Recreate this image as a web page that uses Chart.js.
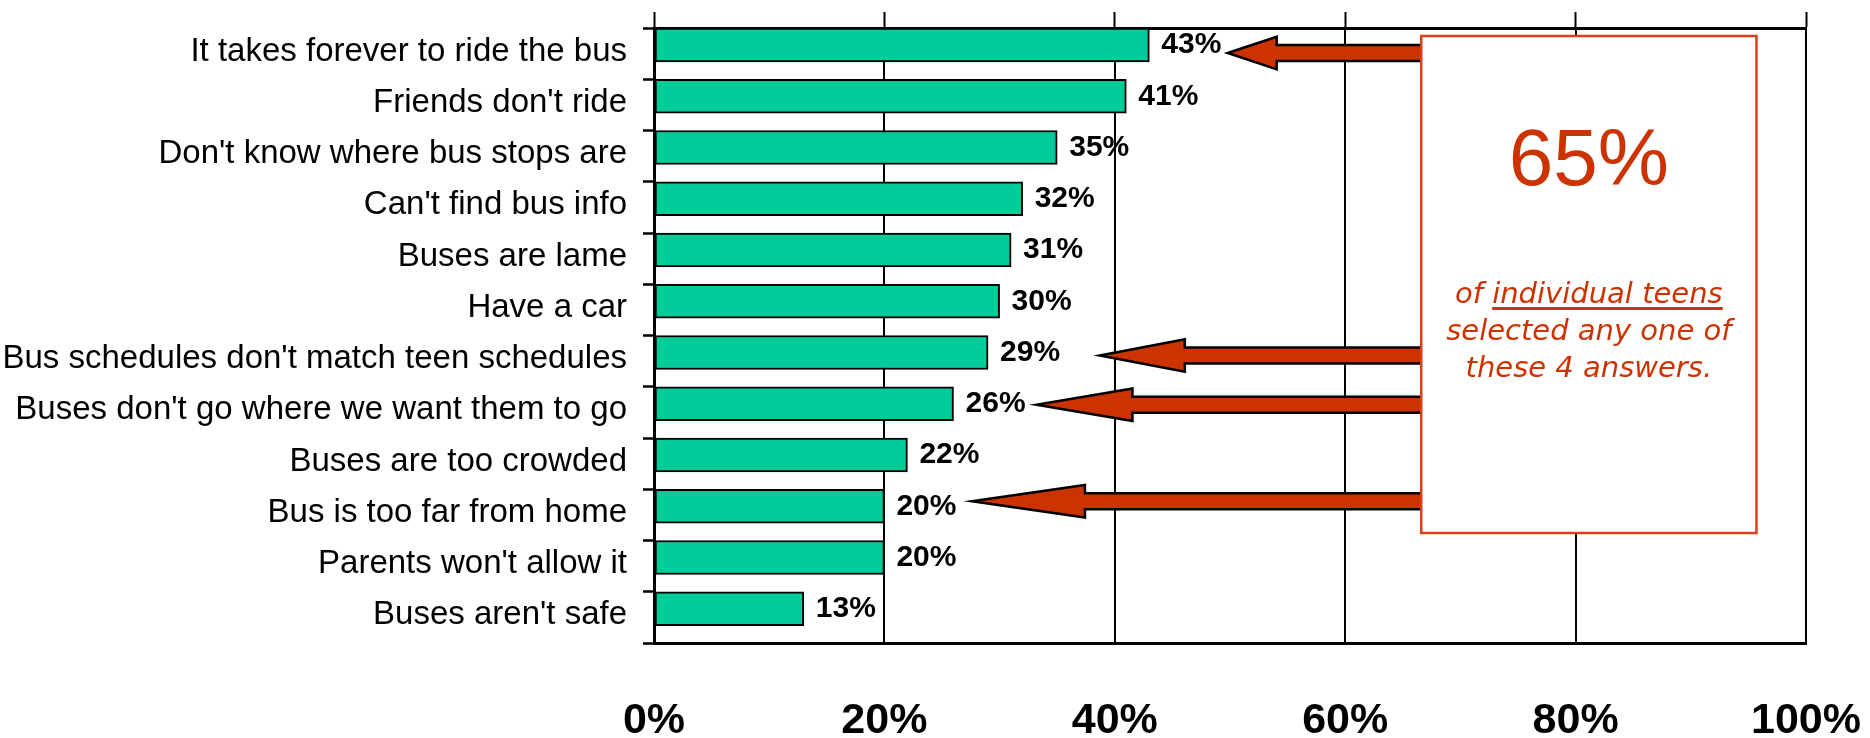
<!DOCTYPE html>
<html>
<head>
<meta charset="utf-8">
<script src="https://cdn.jsdelivr.net/npm/chart.js@4/dist/chart.umd.min.js"></script>
<style>
  body { margin: 0; background: #fff; }
  #wrap { width: 1870px; height: 738px; }
</style>
</head>
<body>
<div id="wrap"><canvas id="reasonsChart"></canvas></div>
<script>
// Why teens don't ride the bus (share of teens choosing each reason)
const reasons = [
  'It takes forever to ride the bus',
  "Friends don't ride",
  "Don't know where bus stops are",
  "Can't find bus info",
  'Buses are lame',
  'Have a car',
  "Bus schedules don't match teen schedules",
  "Buses don't go where we want them to go",
  'Buses are too crowded',
  'Bus is too far from home',
  "Parents won't allow it",
  "Buses aren't safe"
];
const percents = [43, 41, 35, 32, 31, 30, 29, 26, 22, 20, 20, 13];
const axisTicks = [0, 20, 40, 60, 80, 100];

// callout: rows the arrows point at, and the summary figure
const calloutRows = [0, 6, 7, 9];
const calloutFigure = '65%';
const calloutLines = ['of ', 'individual teens', 'selected any one of', 'these 4 answers.'];

// arrow shapes (hand drawn in the original, so each one differs a bit)
const arrowTips = [49.8, 38.7, 33.2, 27.6];   // tip, in axis percent
const arrowHeads = [49, 85, 96, 113];         // head length, px
const arrowDy = [8, 3, 1, -5];                // nudge from bar centre, px

const RED = '#cc3300';
const barShift = 0.168;   // bars sit at the top of each row, not centred

const annotations = {
  id: 'annotations',
  afterDatasetsDraw(chart) {
    const ctx = chart.ctx;
    const meta = chart.getDatasetMeta(0);
    const x = chart.scales.x;
    const area = chart.chartArea;

    // value labels
    ctx.save();
    ctx.font = 'bold 30px "Liberation Sans", Arial, sans-serif';
    ctx.fillStyle = '#000';
    ctx.textAlign = 'left';
    ctx.textBaseline = 'middle';
    meta.data.forEach((bar, i) => {
      ctx.fillText(percents[i] + '%', bar.x + 12, bar.y);
    });
    ctx.restore();

    const boxLeft = x.getPixelForValue(66.6);
    const boxRight = x.getPixelForValue(95.7);
    const boxTop = area.top + 8;
    const boxBottom = area.top + 505;

    // arrows
    ctx.save();
    ctx.fillStyle = RED;
    ctx.strokeStyle = '#000';
    ctx.lineWidth = 2.5;
    ctx.lineJoin = 'miter';
    calloutRows.forEach((row, k) => {
      const cy = meta.data[row].y + arrowDy[k];
      const tip = x.getPixelForValue(arrowTips[k]);
      const base = tip + arrowHeads[k];
      const tail = boxLeft + 2;
      const hh = 16.3, sh = 8;
      ctx.beginPath();
      ctx.moveTo(tip, cy);
      ctx.lineTo(base, cy - hh);
      ctx.lineTo(base, cy - sh);
      ctx.lineTo(tail, cy - sh);
      ctx.lineTo(tail, cy + sh);
      ctx.lineTo(base, cy + sh);
      ctx.lineTo(base, cy + hh);
      ctx.closePath();
      ctx.fill();
      ctx.stroke();
    });
    ctx.restore();

    // callout box
    ctx.save();
    ctx.fillStyle = '#fff';
    ctx.fillRect(boxLeft, boxTop, boxRight - boxLeft, boxBottom - boxTop);
    ctx.strokeStyle = '#d9401a';
    ctx.lineWidth = 2.5;
    ctx.strokeRect(boxLeft, boxTop, boxRight - boxLeft, boxBottom - boxTop);

    const cx = (boxLeft + boxRight) / 2;
    ctx.fillStyle = RED;
    ctx.textAlign = 'center';
    ctx.textBaseline = 'alphabetic';
    ctx.font = '80px "Liberation Sans", Arial, sans-serif';
    ctx.fillText(calloutFigure, cx, boxTop + 149);

    ctx.font = 'italic 29px "DejaVu Sans", Verdana, sans-serif';
    // first line: plain "of " + underlined phrase
    const w1 = ctx.measureText(calloutLines[0]).width;
    const w2 = ctx.measureText(calloutLines[1]).width;
    const start = cx - (w1 + w2) / 2;
    const y1 = boxTop + 267;
    ctx.textAlign = 'left';
    ctx.fillText(calloutLines[0], start, y1);
    ctx.fillText(calloutLines[1], start + w1, y1);
    ctx.fillRect(start + w1, y1 + 4, w2, 3);
    ctx.textAlign = 'center';
    ctx.fillText(calloutLines[2], cx, y1 + 37);
    ctx.fillText(calloutLines[3], cx, y1 + 74);
    ctx.restore();
  }
};

Chart.defaults.font.family = '"Liberation Sans", Arial, sans-serif';
Chart.defaults.color = '#000';

new Chart(document.getElementById('reasonsChart'), {
  type: 'bar',
  data: {
    labels: reasons,
    datasets: [{
      data: percents.map((v, i) => ({ x: v, y: i })),
      xAxisID: 'x',
      yAxisID: 'yBar',
      backgroundColor: '#00cc99',
      borderColor: '#000',
      borderWidth: 2,
      borderSkipped: false,
      barThickness: 34
    }]
  },
  options: {
    indexAxis: 'y',
    responsive: true,
    maintainAspectRatio: false,
    animation: false,
    layout: { padding: { left: 0, right: 64, top: 12, bottom: 0 } },
    plugins: {
      legend: { display: false },
      tooltip: { enabled: false }
    },
    scales: {
      x: {
        type: 'linear',
        position: 'bottom',
        min: 0,
        max: 100,
        afterBuildTicks: s => { s.ticks = axisTicks.map(v => ({ value: v })); },
        ticks: {
          callback: v => v + '%',
          font: { size: 43, weight: 'bold' },
          padding: 52,
          maxRotation: 0
        },
        grid: { color: '#000', lineWidth: 2, drawTicks: false },
        border: { color: '#000', width: 3 },
        afterFit: s => { s.height = 95; s.paddingLeft = 0; s.paddingRight = 0; }
      },
      xTop: {
        type: 'linear',
        position: 'top',
        min: 0,
        max: 100,
        afterBuildTicks: s => { s.ticks = axisTicks.map(v => ({ value: v })); },
        ticks: { display: false },
        grid: { drawOnChartArea: false, tickLength: 16, tickColor: '#000', tickWidth: 2 },
        border: { color: '#000', width: 3 },
        afterFit: s => { s.height = 16; s.paddingLeft = 0; s.paddingRight = 0; }
      },
      y: {
        type: 'category',
        position: 'left',
        offset: true,
        ticks: {
          font: { size: 33 },
          padding: 16,
          labelOffset: -2,
          autoSkip: false
        },
        grid: { offset: true, drawOnChartArea: false, tickLength: 11, tickColor: '#000', tickWidth: 2.5 },
        border: { color: '#000', width: 3 },
        afterFit: s => { s.width = 654; s.paddingTop = 0; s.paddingBottom = 0; }
      },
      yBar: {
        type: 'linear',
        display: false,
        reverse: true,
        offset: false,
        min: -0.5 + barShift,
        max: reasons.length - 0.5 + barShift
      }
    }
  },
  plugins: [annotations]
});
</script>
</body>
</html>
